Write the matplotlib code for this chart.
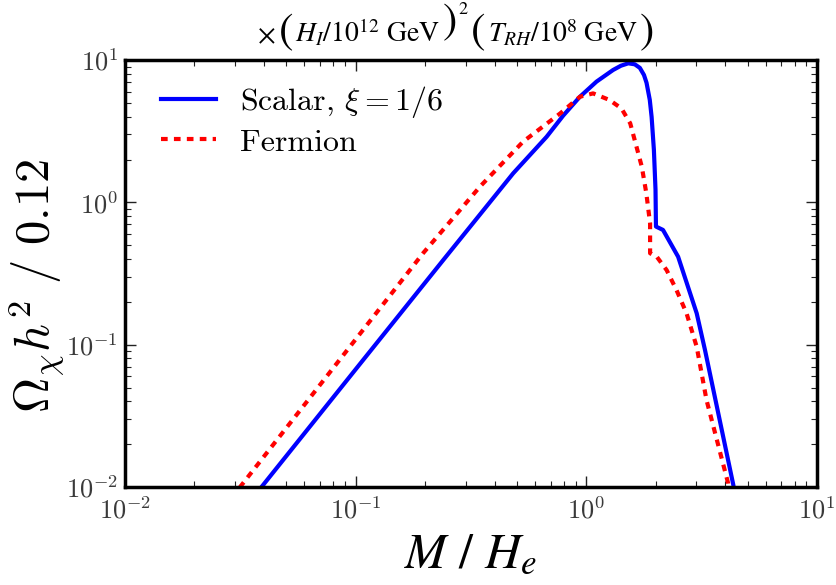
import math
import matplotlib
matplotlib.use("Agg")
import matplotlib.pyplot as plt
from matplotlib.ticker import FuncFormatter
from matplotlib.offsetbox import TextArea, HPacker, AnchoredOffsetbox

# Relic abundance vs. mass (log-log), read in units of Omega h^2 / 0.12
scalar_M = [0.035, 0.1, 0.240, 0.482, 0.673, 0.794, 0.938, 1.107, 1.306, 1.413,
            1.52, 1.622, 1.706, 1.778, 1.824, 1.884, 1.919, 1.963, 1.995, 2.004,
            2.15, 2.50, 3.01, 3.27, 4.34, 4.40]
scalar_O = [0.0080, 0.0671, 0.394, 1.60, 2.89, 4.07, 5.52, 7.05, 8.51, 9.12,
            9.48, 9.33, 8.81, 7.85, 6.92, 5.25, 3.98, 2.34, 1.23, 0.676,
            0.64, 0.415, 0.166, 0.0916, 0.0103, 0.0085]

fermion_M = [0.029, 0.1, 0.196, 0.346, 0.532, 0.771, 0.938, 1.07, 1.26, 1.42,
             1.55, 1.65, 1.74, 1.82, 1.89, 1.89, 2.02, 2.23, 2.46, 2.72, 3.01,
             3.32, 4.12, 4.18]
fermion_O = [0.0084, 0.109, 0.439, 1.29, 2.67, 4.22, 5.52, 5.83, 5.24, 4.57,
             3.59, 2.46, 1.78, 1.16, 0.711, 0.439, 0.415, 0.334, 0.242, 0.166, 0.0966,
             0.0408, 0.0106, 0.0085]

labels = [r"Scalar, $\xi=1/6$", "Fermion"]

plt.rcParams["mathtext.fontset"] = "cm"
plt.rcParams["font.family"] = ["DejaVu Serif"]

fig = plt.figure(figsize=(8.37, 5.85), dpi=100)
ax = fig.add_axes([0.1493, 0.1675, 0.8268, 0.7299])

ax.plot(scalar_M, scalar_O, color="#0000ff", lw=3.0, label=labels[0],
        solid_joinstyle="round")
ax.plot(fermion_M, fermion_O, color="#ff0000", lw=3.0, ls=(0, (1.6, 1.5)),
        label=labels[1])

ax.set_xscale("log")
ax.set_yscale("log")
ax.set_xlim(1e-2, 1e1)
ax.set_ylim(1e-2, 1e1)

decade = FuncFormatter(lambda v, pos: r"$10^{%d}$" % round(math.log10(v)))
ax.xaxis.set_major_formatter(decade)
ax.yaxis.set_major_formatter(decade)

for s in ax.spines.values():
    s.set_linewidth(2.5)
ax.tick_params(which="both", direction="in", top=True, right=True,
               colors="#222222", labelcolor="#3a3a3a", labelsize=19)
ax.tick_params(which="major", length=8, width=1.0)
ax.tick_params(which="minor", length=4, width=0.8)
ax.tick_params(axis="x", pad=7)
ax.tick_params(axis="y", pad=5)

ax.set_xlabel(r"$M\ /\ H_e$", fontsize=36, labelpad=4,
              math_fontfamily="stix")
ax.set_ylabel(r"$\Omega_\chi h^2\ /\ 0.12$", fontsize=35)
ax.yaxis.set_label_coords(-0.084, 0.47)

# Title built from pieces so the parentheses can be drawn large
small = dict(fontsize=20, math_fontfamily="stix")
big = dict(fontsize=31, math_fontfamily="stix")
sup = dict(fontsize=13, math_fontfamily="stix")
close_sq = HPacker(children=[TextArea(r"$)$", textprops=big),
                             TextArea(r"$2$", textprops=sup)],
                   align="top", pad=0, sep=1)
pieces = [
    TextArea(r"$\times$", textprops=small),
    TextArea(r"$($", textprops=big),
    TextArea(r"$H_I/10^{12}\ \mathrm{GeV}$", textprops=small),
    close_sq,
    TextArea(r"$($", textprops=big),
    TextArea(r"$T_{RH}/10^{8}\ \mathrm{GeV}$", textprops=small),
    TextArea(r"$)$", textprops=big),
]
title_box = HPacker(children=pieces, align="baseline", pad=0, sep=1.5)
anchored = AnchoredOffsetbox(loc="center", child=title_box, frameon=False,
                             bbox_to_anchor=(0.544, 0.955),
                             bbox_transform=fig.transFigure, pad=0, borderpad=0)
fig.add_artist(anchored)

leg = ax.legend(loc="upper left", frameon=False, fontsize=23,
                handlelength=1.72, borderaxespad=0.0, labelspacing=0.25,
                handletextpad=0.75, borderpad=0.25,
                bbox_to_anchor=(0.041, 0.962))
for t in leg.get_texts():
    t.set_fontfamily("cmr10")

fig.savefig("out.png", dpi=100)
